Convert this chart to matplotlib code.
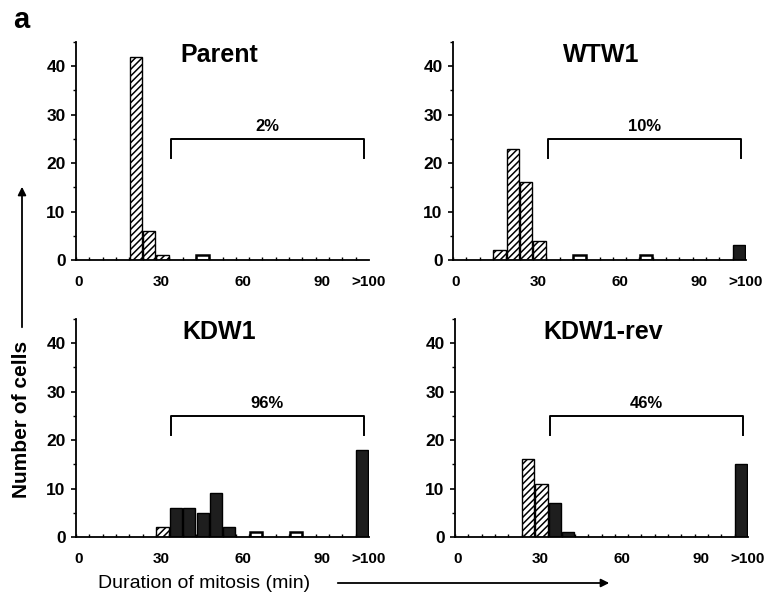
"""Duration of mitosis histograms, four cell lines (panel a)."""

import matplotlib
matplotlib.use("Agg")
import matplotlib.pyplot as plt
import numpy as np

plt.rcParams["font.family"] = ["Liberation Sans", "DejaVu Sans"]
plt.rcParams["hatch.linewidth"] = 1.1

# 5-min bins: 0-5 ... 95-100, an empty gap bin, then ">100"
bin_labels = [f"{m}-{m + 5}" for m in range(0, 100, 5)] + ["", ">100"]

parent = [0, 0, 0, 0, 42, 6, 1, 0, 0, 1, 0, 0, 0, 0, 0, 0, 0, 0, 0, 0, 0, 0]
wtw1 = [0, 0, 0, 2, 23, 16, 4, 0, 0, 1, 0, 0, 0, 0, 1, 0, 0, 0, 0, 0, 0, 3]
kdw1 = [0, 0, 0, 0, 0, 0, 2, 6, 6, 5, 9, 2, 0, 1, 0, 0, 1, 0, 0, 0, 0, 18]
kdw1_rev = [0, 0, 0, 0, 0, 16, 11, 7, 1, 0, 0, 0, 0, 0, 0, 0, 0, 0, 0, 0, 0, 15]

titles = ["Parent", "WTW1", "KDW1", "KDW1-rev"]
percents = ["2%", "10%", "96%", "46%"]
xtick_labels = ["0", "30", "60", "90", ">100"]
xtick_bins = [0.2, 6.4, 12.5, 18.5, 22.0]

series = [parent, wtw1, kdw1, kdw1_rev]

W, H = 774, 604
fig = plt.figure(figsize=(W / 100, H / 100), dpi=100)

# axes boxes in pixels: (left, y of zero line)
boxes = [(76, 260), (453, 260), (76, 537), (455, 537)]
ax_w, ax_h = 293, 218
n_bins = len(bin_labels)
delayed_from = 7  # bins from 35 min on count as delayed

for k, (counts, title, pct, (left, y0)) in enumerate(zip(series, titles, percents, boxes)):
    ax = fig.add_axes([left / W, (H - y0) / H, ax_w / W, ax_h / H])
    counts = np.array(counts)
    x = np.arange(n_bins)
    for i, c in enumerate(counts):
        if c == 0:
            continue
        lonely = (i == 0 or counts[i - 1] == 0) and (i == n_bins - 1 or counts[i + 1] == 0)
        if i < delayed_from:
            ax.bar(x[i] + 0.5, c, width=0.93, facecolor="white", edgecolor="black",
                   hatch="/////", linewidth=1.0)
        elif c == 1 and lonely:
            ax.bar(x[i] + 0.5, c, width=0.93, facecolor="white", edgecolor="black",
                   linewidth=1.8)
        else:
            ax.bar(x[i] + 0.5, c, width=0.9, facecolor="#1e1e1e", edgecolor="black",
                   linewidth=1.0)

    ax.set_xlim(0, n_bins)
    ax.set_ylim(0, 45)
    for s in ("top", "right"):
        ax.spines[s].set_visible(False)
    for s in ("left", "bottom"):
        ax.spines[s].set_linewidth(1.3)

    ax.set_yticks([0, 10, 20, 30, 40])
    ax.set_yticks([5, 15, 25, 35, 45], minor=True)
    ax.tick_params(axis="y", which="major", length=3.5, width=1.2, pad=4,
                   labelsize=12.5)
    ax.tick_params(axis="y", which="minor", length=2, width=1.0)
    for lab in ax.get_yticklabels():
        lab.set_fontweight("bold")

    ax.set_xticks(xtick_bins)
    ax.set_xticklabels(xtick_labels, fontsize=11, fontweight="bold")
    ax.set_xticks(np.arange(n_bins + 1), minor=True)
    ax.tick_params(axis="x", which="major", length=0, pad=11)
    ax.tick_params(axis="x", which="minor", direction="in", length=2.5, width=1.0)

    ax.text(0.49 if k % 2 == 0 else 0.505, 0.94, title, transform=ax.transAxes,
            ha="center", va="center", fontsize=18, fontweight="bold")

    # bracket over the delayed cells
    bx0, bx1, by, drop = 7.1, 21.6, 25, 4
    ax.plot([bx0, bx0, bx1, bx1], [by - drop, by, by, by - drop], color="black",
            lw=1.4, clip_on=False)
    ax.text((bx0 + bx1) / 2, by + 1.1, pct, ha="center", va="bottom",
            fontsize=12, fontweight="bold")

fig.text(13 / W, 1 - 28 / H, "a", fontsize=21, fontweight="bold", ha="left",
         va="baseline")

fig.text(22 / W, 1 - 419 / H, "Number of cells", rotation=90, ha="center",
         va="center", fontsize=15, fontweight="bold")
fig.add_artist(matplotlib.patches.FancyArrowPatch(
    (22 / W, 1 - 330 / H), (22 / W, 1 - 184 / H), transform=fig.transFigure,
    arrowstyle="-|>", mutation_scale=12, lw=1.3, color="black"))

fig.text(98 / W, 1 - 583 / H, "Duration of mitosis (min)", ha="left",
         va="center", fontsize=14)
fig.add_artist(matplotlib.patches.FancyArrowPatch(
    (335 / W, 1 - 583 / H), (612 / W, 1 - 583 / H), transform=fig.transFigure,
    arrowstyle="-|>", mutation_scale=12, lw=1.3, color="black"))

fig.savefig("out.png", dpi=100)
